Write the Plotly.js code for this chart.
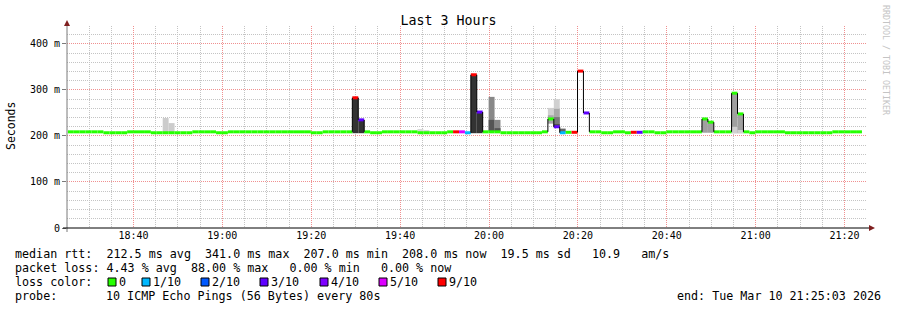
<!DOCTYPE html>
<html><head><meta charset="utf-8">
<script src="https://cdn.plot.ly/plotly-3.0.1.min.js"></script>
<style>html,body{margin:0;padding:0;background:#fff}</style>
</head><body><div id="chart" style="width:897px;height:310px"></div>
<script>
// ---------------- data ----------------
const graphTitle = 'Last 3 Hours';
const yTitle = 'Seconds';
const rangeStart = '2026-03-10 18:25:03';
const rangeEnd = '2026-03-10 21:25:03';
const firstSample = [2026, 2, 10, 18, 25, 15]; // Date.UTC args (month 0-based)
const sampleSeconds = 80;

// run-length encoded median rtt (ms) and loss (tenths)
const runLength   = [6,4,4,7,4,2,14,2,5,1,1,1,2,6,5,1,1,1,1,1,1,3,7,1,1,1,1,1,1,1,1,2,2,2,1,1,1,2,2,6,1,1,3,1,1,1,1,5,8,5];
const runMedianMs = [209,207,209,207,209,207,209,207,209,283,235,209,207,209,207,209,209,209,207,333,252,209,207,209,237,220,207,208,208,341,250,209,207,209,207,208,208,209,207,209,237,230,209,293,248,209,207,209,207,209];
const runLoss     = [0,0,0,0,0,0,0,0,0,9,3,0,0,0,0,0,9,5,1,9,3,0,0,0,0,3,1,0,9,9,3,0,0,0,0,9,3,0,0,0,0,0,0,0,0,0,0,0,0,0];

// smoke (ping spread) blocks
const smokeSample = [16,17,48,49,59,60,68,69,71,71,72,72,81,81,82,82,82,82,83,107,108,112,112,113,113];
const smokeLowMs  = [208,208,206,206,207,207,206,206,210,210,210,210,227,227,219,219,219,219,208,207,207,206,206,206,206];
const smokeHighMs = [239,228,283,235,215,213,333,252,285,235,235,217,261,245,280,259,241,226,216,237,230,293,220,248,213];
const smokeShade  = ['#cccccc','#cccccc','#333333','#333333','#d6d6d6','#d6d6d6','#333333','#333333','#888888','#555555','#888888','#555555','#d0d0d0','#a8a8a8','#d0d0d0','#a8a8a8','#787878','#505050','#666666','#a0a0a0','#a0a0a0','#a0a0a0','#d0d0d0','#a0a0a0','#d0d0d0'];

const lossLevels = [0,1,2,3,4,5,9];
const lossColors = ['#26ff00','#00b8ff','#0059ff','#5e00ff','#7e00ff','#dd00ff','#ff0000'];
const lossLabels = ['0','1/10','2/10','3/10','4/10','5/10','9/10'];

const yTickVals = [0,0.1,0.2,0.3,0.4];
const yTickText = ['0','100 m','200 m','300 m','400 m'];

const lineMedian = 'median rtt:  212.5 ms avg  341.0 ms max  207.0 ms min  208.0 ms now  19.5 ms sd   10.9   am/s';
const lineLoss   = 'packet loss: 4.43 % avg  88.00 % max   0.00 % min   0.00 % now';
const lineColorHdr = 'loss color:';
const lineProbeHdr = 'probe:';
const lineProbe  = '10 ICMP Echo Pings (56 Bytes) every 80s';
const lineEnd    = 'end: Tue Mar 10 21:25:03 2026';
const watermark  = 'RRDTOOL / TOBI OETIKER';

// ---------------- build ----------------
const FONT = 'DejaVu Sans Mono, monospace';
const t0 = Date.UTC.apply(null, firstSample);
const tAt = k => t0 + k * sampleSeconds * 1000;
const Y_MAX = 0.439;

const med = [], loss = [];
runLength.forEach((n, i) => { for (let j = 0; j < n; j++) { med.push(runMedianMs[i]); loss.push(runLoss[i]); } });
const N = med.length;

// pixel helpers
const L = 67, R = 867, T = 26, B = 228;
const px = x => (x - L) / (R - L);
const py = y => (B - y) / (B - T);
const nb = s => s.replace(/ /g, '\u00a0');
const capH = 3 * Y_MAX / (B - T); // 3 px thick median band

const traces = [];
// smoke
traces.push({
  type: 'bar',
  x: smokeSample.map(tAt),
  base: smokeLowMs.map(v => v / 1000),
  y: smokeHighMs.map((v, i) => (v - smokeLowMs[i]) / 1000),
  width: smokeSample.map(() => sampleSeconds * 1000),
  offset: 0,
  marker: { color: smokeShade, line: { width: 0 } },
  hoverinfo: 'skip', showlegend: false
});
// coloured median band coloured by loss
const ks = med.map((_, k) => k);
traces.push({
  type: 'bar',
  x: ks.map(tAt),
  base: med.map(v => v / 1000 - capH / 2),
  y: med.map(() => capH),
  width: ks.map(() => sampleSeconds * 1000),
  offset: 0,
  marker: { color: loss.map(l => lossColors[lossLevels.indexOf(l)]), line: { width: 0 } },
  hoverinfo: 'skip', showlegend: false
});
// thin black vertical connectors of the median where it jumps
const vx = [], vy = [];
for (let k = 1; k < N; k++) {
  if (Math.abs(med[k] - med[k - 1]) > 4) { vx.push(tAt(k), tAt(k), null); vy.push(med[k - 1] / 1000, med[k] / 1000, null); }
}
traces.push({ type: 'scatter', mode: 'lines', x: vx, y: vy, line: { color: '#000', width: 1 }, hoverinfo: 'skip', showlegend: false });

const shapes = [
  { type: 'line', xref: 'paper', yref: 'paper', x0: px(67), x1: px(67), y0: py(232), y1: py(22), line: { color: '#7a7a7a', width: 1 } },
  { type: 'line', xref: 'paper', yref: 'paper', x0: px(63), x1: px(870), y0: py(228), y1: py(228), line: { color: '#000', width: 1 } },
  { type: 'path', xref: 'paper', yref: 'paper', path: `M${px(64)},${py(26)} L${px(70)},${py(26)} L${px(67)},${py(20)} Z`, fillcolor: '#7f1f1f', line: { width: 0 } },
  { type: 'path', xref: 'paper', yref: 'paper', path: `M${px(869)},${py(225)} L${px(869)},${py(231)} L${px(875)},${py(228)} Z`, fillcolor: '#7f1f1f', line: { width: 0 } }
];
const annotations = [
  { text: yTitle, xref: 'paper', yref: 'paper', x: px(11), y: py(126), textangle: -90, showarrow: false, font: { family: FONT, size: 11.5, color: '#000' }, xanchor: 'center', yanchor: 'middle' },
  { text: watermark, xref: 'paper', yref: 'paper', x: px(886), y: py(60), textangle: 90, showarrow: false, font: { family: FONT, size: 8.3, color: '#c4c4c4' }, xanchor: 'center', yanchor: 'middle' }
];
const legendText = (s, x, y, anchor) => annotations.push({ text: nb(s), xref: 'paper', yref: 'paper', x: px(x), y: py(y), showarrow: false, xanchor: anchor || 'left', yanchor: 'middle', borderpad: 0, font: { family: FONT, size: 11.7, color: '#000' } });
legendText(lineMedian, 14, 254);
legendText(lineLoss, 14, 268);
legendText(lineColorHdr, 14, 282);
legendText(lineProbeHdr, 14, 296);
legendText(lineProbe, 105, 296);
legendText(lineEnd, 882, 296, 'right');
const boxX = [108, 142, 201, 260, 320, 379, 438];
lossLabels.forEach((lab, i) => {
  shapes.push({ type: 'rect', xref: 'paper', yref: 'paper', x0: px(boxX[i]), x1: px(boxX[i] + 8), y0: py(286), y1: py(278), fillcolor: lossColors[i], line: { color: '#000', width: 1 } });
  legendText(lab, boxX[i] + 10, 282);
});

const layout = {
  width: 897, height: 310, autosize: false,
  margin: { l: L, r: 897 - R, t: T, b: 310 - B, pad: 0 },
  paper_bgcolor: '#fff', plot_bgcolor: '#fff',
  barmode: 'overlay', showlegend: false,
  title: { text: graphTitle, font: { family: FONT, size: 13.3, color: '#000' }, x: 0.5, xref: 'container', xanchor: 'center', y: 1 - 20 / 310, yref: 'container', yanchor: 'middle' },
  xaxis: {
    type: 'date', range: [rangeStart, rangeEnd], tickmode: 'linear', tick0: '2026-03-10 18:40:00', dtick: 1200000,
    tickformat: '%H:%M', ticks: '', showline: false, zeroline: false,
    showgrid: true, gridcolor: '#f09090', griddash: '1px,1px', gridwidth: 1,
    minor: { tickmode: 'linear', dtick: 300000, showgrid: true, gridcolor: '#c4c4c4', griddash: '1px,1px', gridwidth: 1, ticks: '' },
    tickfont: { family: FONT, size: 10, color: '#000' }, fixedrange: true
  },
  yaxis: {
    range: [0, Y_MAX], tickmode: 'array', tickvals: yTickVals, ticktext: yTickText,
    ticks: 'outside', ticklen: 4, tickcolor: '#7a7a7a', showline: false, zeroline: false,
    showgrid: true, gridcolor: '#f09090', griddash: '1px,1px', gridwidth: 1,
    minor: { tickmode: 'linear', tick0: 0, dtick: 0.02, showgrid: true, gridcolor: '#c4c4c4', griddash: '1px,1px', gridwidth: 1, ticks: '' },
    tickfont: { family: FONT, size: 10, color: '#000' }, fixedrange: true
  },
  shapes: shapes, annotations: annotations
};
Plotly.newPlot('chart', traces, layout, { staticPlot: true, displayModeBar: false });
</script></body></html>
